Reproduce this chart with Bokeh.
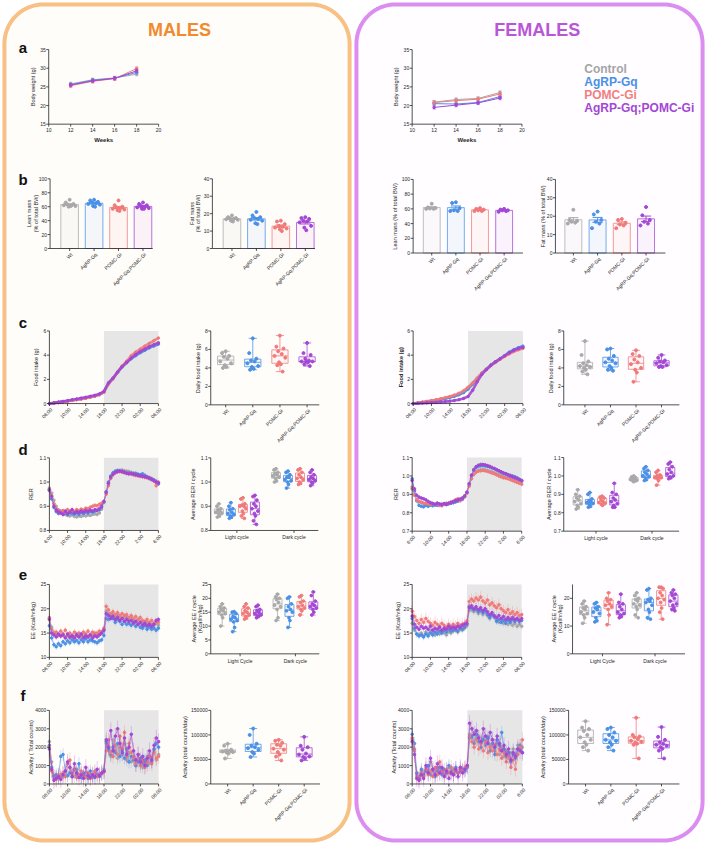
import numpy as np
from bokeh.plotting import figure
from bokeh.models import Range1d
from bokeh.embed import file_html
from bokeh.resources import INLINE
from bokeh.core.properties import value

# ============================ DATA ============================
groups = ["Control", "AgRP-Gq", "POMC-Gi", "AgRP-Gq;POMC-Gi"]
cat_labels = ["Wt", "AgRP-Gq", "POMC-Gi", "AgRP-Gq;POMC-Gi"]
colors = ["#A9A9A9", "#4A90E6", "#F07A7A", "#A347D4"]
legend_colors = ["#A5A5A5", "#4A90E8", "#F27F7F", "#A248D3"]

# (a) body weight
weeks = [12, 14, 16, 18]
week_ticks = [10, 12, 14, 16, 18, 20]
bw_m_ctrl = [25.8, 26.9, 27.4, 28.4]
bw_m_agrp = [25.6, 26.8, 27.3, 28.9]
bw_m_pomc = [25.3, 26.5, 27.2, 29.9]
bw_m_dual = [25.5, 26.6, 27.3, 29.3]
bw_f_ctrl = [20.9, 21.6, 21.9, 23.5]
bw_f_agrp = [20.5, 20.4, 20.8, 22.4]
bw_f_pomc = [20.8, 21.3, 21.7, 23.1]
bw_f_dual = [19.5, 20.1, 20.7, 22.0]
bw_sem = [0.45, 0.4, 0.5, 0.45]

# (b) body composition (% of total BW)
lean_m_ctrl = [70, 66, 64, 63, 62, 62, 61, 60, 61]
lean_m_agrp = [70, 69, 67, 66, 65, 64, 63, 61, 60]
lean_m_pomc = [69, 62, 60, 59, 58, 57, 56, 55, 54]
lean_m_dual = [66, 64, 62, 61, 60, 59, 58, 57, 57]
fat_m_ctrl = [19, 18, 17.5, 17.2, 17, 16.8, 16.5, 16, 15.5]
fat_m_agrp = [21, 19, 18, 17.5, 17, 16.5, 16, 14.5, 14]
fat_m_pomc = [16, 15.5, 14, 13, 12.5, 12, 11.5, 11, 10]
fat_m_dual = [18, 17.5, 17, 16, 15.5, 15, 13, 12, 10.5]
lean_f_ctrl = [67, 62, 61, 60.5, 60, 60]
lean_f_agrp = [69, 68, 61, 58, 57, 57]
lean_f_pomc = [61, 60, 59, 58, 57, 57]
lean_f_dual = [60, 59, 58, 58, 57, 56]
fat_f_ctrl = [23.5, 18, 17.5, 17, 16.5, 16]
fat_f_agrp = [22.5, 21, 18, 17, 16, 13.5]
fat_f_pomc = [18.5, 18, 16.5, 15.5, 15, 13.5]
fat_f_dual = [25, 20.5, 18, 17, 16, 15]

# time axes
time_ticks = [0, 4, 8, 12, 16, 20, 24]
tlab_a = ["06:00", "10:00", "14:00", "18:00", "22:00", "02:00", "06:00"]
tlab_b = ["6:00", "10:00", "14:00", "18:00", "22:00", "2:00", "6:00"]
tlab_c = ["06:00", "10:00", "14:00", "18:00", "22:00", "02:00", "6:00"]

# (c) cumulative food intake (g), hourly from 06:00
food_m_ctrl = [0, 0.05, 0.10, 0.15, 0.21, 0.27, 0.33, 0.39, 0.46, 0.54, 0.62, 0.74, 0.95,
               1.65, 2.05, 2.55, 3.00, 3.35, 3.75, 4.05, 4.30, 4.50, 4.70, 4.90, 5.05]
food_m_agrp = [0, 0.05, 0.10, 0.16, 0.22, 0.28, 0.34, 0.40, 0.47, 0.55, 0.63, 0.76, 0.98,
               1.70, 2.10, 2.60, 3.05, 3.40, 3.70, 3.95, 4.20, 4.40, 4.60, 4.75, 4.90]
food_m_pomc = [0, 0.04, 0.08, 0.13, 0.19, 0.25, 0.31, 0.37, 0.44, 0.52, 0.60, 0.72, 0.92,
               1.60, 2.05, 2.60, 3.10, 3.50, 3.95, 4.25, 4.50, 4.75, 4.98, 5.20, 5.42]
food_m_dual = [0, 0.06, 0.12, 0.18, 0.24, 0.31, 0.38, 0.45, 0.52, 0.60, 0.68, 0.80, 1.00,
               1.70, 2.10, 2.60, 3.05, 3.40, 3.75, 4.05, 4.30, 4.50, 4.70, 4.85, 5.00]
food_f_ctrl = [0, 0.05, 0.10, 0.15, 0.21, 0.28, 0.35, 0.43, 0.52, 0.63, 0.76, 0.95, 1.25,
               1.65, 2.10, 2.50, 2.85, 3.20, 3.45, 3.70, 3.95, 4.20, 4.40, 4.55, 4.65]
food_f_agrp = [0, 0.04, 0.09, 0.14, 0.20, 0.26, 0.33, 0.41, 0.50, 0.60, 0.72, 0.90, 1.20,
               1.60, 2.05, 2.50, 2.85, 3.20, 3.45, 3.70, 3.95, 4.25, 4.45, 4.62, 4.75]
food_f_pomc = [0, 0.06, 0.12, 0.18, 0.25, 0.32, 0.40, 0.48, 0.58, 0.70, 0.85, 1.05, 1.35,
               1.70, 2.10, 2.50, 2.85, 3.15, 3.40, 3.65, 3.90, 4.10, 4.30, 4.45, 4.55]
food_f_dual = [0, 0.02, 0.04, 0.06, 0.08, 0.10, 0.13, 0.16, 0.20, 0.25, 0.32, 0.42, 0.58,
               1.10, 1.80, 2.40, 2.80, 3.15, 3.45, 3.70, 3.95, 4.20, 4.40, 4.55, 4.65]

# daily food intake (g)
fi_m_ctrl = [5.8, 5.6, 5.3, 5.2, 5.0, 4.7, 4.5, 4.3, 4.1, 4.0]
fi_m_agrp = [7.2, 5.6, 5.0, 4.8, 4.7, 4.5, 4.2, 4.1, 3.9, 3.8]
fi_m_pomc = [7.5, 6.3, 6.1, 5.8, 5.5, 5.3, 5.1, 4.6, 4.4, 4.3, 3.6]
fi_m_dual = [6.7, 5.6, 5.4, 5.0, 4.8, 4.7, 4.7, 4.7, 4.6, 4.4, 4.2]
fi_f_ctrl = [6.9, 5.4, 4.7, 4.5, 4.3, 4.2, 4.1, 4.0, 3.8, 3.6, 3.3]
fi_f_agrp = [6.1, 6.0, 5.3, 5.0, 4.8, 4.6, 4.5, 4.2, 4.0, 3.8, 3.7]
fi_f_pomc = [5.9, 5.5, 5.3, 4.9, 4.6, 4.4, 4.0, 3.8, 3.5, 2.5]
fi_f_dual = [5.4, 5.1, 4.8, 4.7, 4.6, 4.5, 4.3, 4.2, 4.1, 4.1]

# (d) RER, every 30 min from 06:00
rer_m_ctrl = [0.975, 0.955, 0.925, 0.900, 0.885, 0.876, 0.872, 0.866, 0.862, 0.860,
              0.864, 0.858, 0.856, 0.860, 0.858, 0.862, 0.860, 0.864, 0.862, 0.866,
              0.868, 0.866, 0.872, 0.888, 0.915, 0.955, 0.995, 1.020, 1.035, 1.042,
              1.046, 1.048, 1.050, 1.047, 1.045, 1.044, 1.040, 1.038, 1.035, 1.032,
              1.030, 1.028, 1.025, 1.022, 1.018, 1.015, 1.010, 1.005, 1.000]
rer_m_agrp = [0.965, 0.930, 0.895, 0.878, 0.870, 0.880, 0.868, 0.872, 0.866, 0.874,
              0.870, 0.868, 0.872, 0.866, 0.874, 0.870, 0.876, 0.872, 0.878, 0.876,
              0.880, 0.884, 0.886, 0.895, 0.918, 0.960, 1.000, 1.025, 1.038, 1.045,
              1.048, 1.046, 1.044, 1.042, 1.040, 1.038, 1.036, 1.034, 1.036, 1.032,
              1.030, 1.034, 1.028, 1.022, 1.018, 1.012, 1.008, 1.000, 0.992]
rer_m_pomc = [0.970, 0.945, 0.910, 0.890, 0.884, 0.878, 0.882, 0.876, 0.886, 0.880,
              0.884, 0.878, 0.886, 0.882, 0.888, 0.884, 0.892, 0.890, 0.896, 0.900,
              0.904, 0.902, 0.908, 0.912, 0.920, 0.950, 0.985, 1.015, 1.030, 1.038,
              1.042, 1.044, 1.042, 1.040, 1.038, 1.036, 1.034, 1.030, 1.028, 1.026,
              1.024, 1.022, 1.020, 1.018, 1.014, 1.010, 1.005, 0.985, 0.998]
rer_m_dual = [0.968, 0.940, 0.900, 0.884, 0.876, 0.872, 0.866, 0.880, 0.870, 0.876,
              0.886, 0.872, 0.878, 0.874, 0.880, 0.876, 0.882, 0.878, 0.884, 0.880,
              0.886, 0.882, 0.890, 0.900, 0.920, 0.958, 0.995, 1.020, 1.032, 1.040,
              1.044, 1.045, 1.043, 1.040, 1.036, 1.034, 1.035, 1.033, 1.030, 1.028,
              1.026, 1.024, 1.022, 1.020, 1.016, 1.012, 1.006, 1.000, 0.996]
rer_f_ctrl = [0.940, 0.900, 0.870, 0.860, 0.855, 0.850, 0.848, 0.845, 0.842, 0.845,
              0.840, 0.846, 0.842, 0.848, 0.845, 0.850, 0.848, 0.852, 0.855, 0.858,
              0.862, 0.866, 0.872, 0.885, 0.905, 0.945, 0.985, 1.010, 1.022, 1.030,
              1.034, 1.035, 1.033, 1.030, 1.026, 1.022, 1.018, 1.012, 1.008, 1.004,
              1.000, 0.996, 0.992, 0.990, 0.985, 0.982, 0.980, 0.975, 0.970]
rer_f_agrp = [0.985, 0.920, 0.865, 0.840, 0.835, 0.832, 0.840, 0.835, 0.842, 0.838,
              0.845, 0.840, 0.846, 0.842, 0.848, 0.844, 0.850, 0.852, 0.855, 0.860,
              0.864, 0.868, 0.874, 0.888, 0.910, 0.955, 1.000, 1.030, 1.045, 1.052,
              1.055, 1.056, 1.054, 1.052, 1.048, 1.044, 1.040, 1.034, 1.028, 1.022,
              1.016, 1.012, 1.008, 1.004, 1.000, 0.996, 0.990, 0.982, 0.976]
rer_f_pomc = [0.930, 0.895, 0.870, 0.862, 0.858, 0.852, 0.850, 0.848, 0.846, 0.850,
              0.845, 0.852, 0.840, 0.838, 0.848, 0.852, 0.850, 0.858, 0.862, 0.870,
              0.876, 0.866, 0.880, 0.890, 0.908, 0.945, 0.985, 1.008, 1.020, 1.026,
              1.028, 1.030, 1.028, 1.025, 1.020, 1.016, 1.012, 1.006, 1.000, 0.995,
              0.990, 0.988, 0.985, 0.980, 0.975, 0.970, 0.965, 0.960, 0.955]
rer_f_dual = [0.975, 0.930, 0.895, 0.885, 0.880, 0.876, 0.870, 0.862, 0.855, 0.850,
              0.846, 0.852, 0.848, 0.844, 0.850, 0.846, 0.852, 0.856, 0.860, 0.866,
              0.870, 0.874, 0.880, 0.892, 0.912, 0.958, 1.005, 1.035, 1.050, 1.058,
              1.062, 1.062, 1.060, 1.056, 1.052, 1.046, 1.040, 1.034, 1.028, 1.022,
              1.016, 1.012, 1.006, 1.000, 0.996, 0.990, 0.986, 0.980, 0.974]
rer_sem_m = [0.006, 0.008, 0.009, 0.010]
rer_sem_f = [0.008, 0.008, 0.010, 0.010]

# average RER per cycle
rerc_m_l_ctrl = [0.91, 0.90, 0.89, 0.885, 0.88, 0.875, 0.87, 0.87, 0.86, 0.855]
rerc_m_l_agrp = [0.915, 0.90, 0.89, 0.885, 0.875, 0.87, 0.865, 0.86, 0.855, 0.85]
rerc_m_l_pomc = [0.935, 0.93, 0.91, 0.905, 0.90, 0.90, 0.89, 0.88, 0.87, 0.86, 0.85]
rerc_m_l_dual = [0.945, 0.94, 0.925, 0.91, 0.90, 0.89, 0.88, 0.87, 0.86, 0.84, 0.825]
rerc_m_d_ctrl = [1.055, 1.05, 1.04, 1.035, 1.03, 1.025, 1.02, 1.015, 1.005, 1.0]
rerc_m_d_agrp = [1.045, 1.04, 1.03, 1.02, 1.02, 1.01, 1.005, 1.0, 0.99, 0.975]
rerc_m_d_pomc = [1.055, 1.05, 1.04, 1.03, 1.02, 1.015, 1.01, 1.0, 0.995, 0.99]
rerc_m_d_dual = [1.05, 1.04, 1.03, 1.02, 1.015, 1.01, 1.005, 1.0, 0.995, 0.985]
rerc_f_l_ctrl = [0.925, 0.90, 0.89, 0.88, 0.87, 0.86, 0.85, 0.84, 0.83, 0.82]
rerc_f_l_agrp = [0.91, 0.90, 0.875, 0.865, 0.86, 0.855, 0.85, 0.845, 0.835, 0.83]
rerc_f_l_pomc = [0.89, 0.885, 0.88, 0.87, 0.86, 0.855, 0.85, 0.845, 0.84]
rerc_f_l_dual = [0.96, 0.91, 0.90, 0.88, 0.87, 0.86, 0.85, 0.84, 0.83, 0.83]
rerc_f_d_ctrl = [1.0, 0.995, 0.99, 0.985, 0.98, 0.98, 0.975, 0.97, 0.97]
rerc_f_d_agrp = [1.05, 1.04, 1.03, 1.02, 1.01, 1.0, 0.995, 0.99, 0.98, 0.975]
rerc_f_d_pomc = [1.03, 1.02, 1.005, 1.0, 0.995, 0.99, 0.99, 0.985, 0.975, 0.95]
rerc_f_d_dual = [1.075, 1.065, 1.05, 1.035, 1.02, 1.01, 1.0, 0.995, 0.99, 0.985]

# (e) energy expenditure (Kcal/hr/kg), every 30 min from 06:00
ee_m_ctrl = [18.0, 16.2, 15.2, 14.8, 14.6, 14.4, 14.8, 14.2, 14.5, 14.0,
             14.6, 14.3, 14.8, 14.2, 14.6, 14.4, 14.8, 14.3, 14.7, 14.5,
             15.0, 14.6, 14.8, 15.0, 15.5, 19.5, 19.0, 18.6, 18.8, 18.2,
             18.9, 18.4, 18.0, 18.6, 18.2, 17.8, 18.4, 17.6, 17.3, 17.8,
             17.2, 17.0, 16.8, 17.2, 16.6, 16.8, 16.5, 17.0, 16.6]
ee_m_agrp = [16.5, 14.0, 12.6, 12.2, 12.8, 12.4, 13.2, 12.8, 13.4, 13.0,
             13.6, 13.2, 13.5, 13.0, 13.6, 13.2, 13.8, 13.2, 13.6, 13.4,
             13.2, 13.0, 13.4, 13.6, 14.5, 18.0, 17.8, 18.5, 18.0, 17.2,
             17.8, 17.4, 16.8, 17.4, 16.8, 17.0, 16.6, 17.2, 16.4, 16.8,
             16.2, 16.0, 16.5, 15.8, 16.2, 15.8, 16.0, 15.6, 16.0]
ee_m_pomc = [18.2, 15.8, 14.8, 15.2, 14.6, 15.4, 14.8, 15.6, 14.6, 15.0,
             14.4, 15.2, 14.6, 15.0, 14.4, 15.2, 14.8, 15.4, 14.6, 15.2,
             14.8, 15.0, 15.4, 15.2, 16.0, 20.5, 19.8, 19.0, 19.4, 18.8,
             19.2, 18.6, 19.0, 18.4, 18.8, 18.2, 18.6, 18.0, 18.4, 17.8,
             18.2, 17.6, 17.4, 17.8, 17.2, 17.6, 17.0, 17.4, 17.2]
ee_m_dual = [17.8, 15.0, 14.6, 14.2, 14.8, 14.4, 14.6, 14.0, 14.8, 14.2,
             14.4, 14.0, 14.6, 14.2, 14.8, 14.0, 14.4, 14.2, 14.6, 14.0,
             14.4, 14.2, 14.6, 15.0, 15.6, 19.0, 18.6, 18.0, 18.4, 17.8,
             18.2, 17.6, 18.0, 17.4, 17.8, 17.4, 17.6, 17.0, 17.4, 16.8,
             17.2, 16.6, 17.0, 16.5, 16.8, 16.4, 16.8, 17.6, 17.8]
ee_f_ctrl = [17.0, 15.6, 14.8, 14.6, 15.0, 14.4, 15.2, 14.8, 15.4, 15.0,
             14.6, 15.2, 14.8, 15.4, 15.0, 14.6, 15.2, 15.0, 15.4, 15.6,
             15.2, 15.8, 15.6, 16.0, 16.5, 19.6, 19.8, 19.4, 19.6, 19.0,
             19.4, 18.8, 19.2, 18.6, 18.0, 18.6, 18.2, 17.6, 17.2, 17.8,
             17.0, 17.4, 16.8, 17.2, 16.6, 17.0, 16.4, 16.8, 16.4]
ee_f_agrp = [18.0, 16.0, 14.8, 14.4, 14.6, 14.2, 14.8, 14.4, 15.0, 14.6,
             15.2, 14.8, 15.4, 15.0, 15.6, 15.2, 15.8, 15.4, 15.6, 15.8,
             15.4, 16.0, 15.8, 16.2, 16.8, 20.5, 20.2, 19.8, 20.0, 19.4,
             19.8, 19.2, 19.6, 18.8, 18.2, 18.8, 18.4, 17.4, 17.8, 17.2,
             17.6, 17.0, 17.6, 17.2, 17.8, 17.4, 17.8, 17.4, 17.6]
ee_f_pomc = [19.5, 18.4, 17.6, 17.0, 17.8, 17.2, 18.0, 17.4, 17.0, 16.6,
             17.2, 16.8, 16.4, 17.0, 16.6, 16.2, 16.8, 16.4, 16.8, 16.4,
             17.0, 16.6, 16.8, 17.0, 17.5, 21.5, 22.0, 21.6, 22.2, 21.8,
             22.4, 21.6, 21.2, 21.8, 20.8, 21.2, 20.6, 20.2, 20.8, 20.0,
             19.6, 19.2, 19.8, 19.0, 19.4, 18.8, 19.2, 18.6, 18.8]
ee_f_dual = [18.5, 16.8, 16.2, 15.8, 16.4, 16.0, 16.2, 15.8, 16.4, 15.6,
             16.0, 15.8, 16.2, 15.6, 16.0, 15.8, 16.4, 16.0, 16.2, 16.0,
             16.4, 16.2, 16.6, 16.8, 17.0, 20.2, 20.6, 20.0, 20.4, 19.8,
             20.2, 19.6, 20.0, 19.4, 18.8, 19.2, 18.6, 18.2, 18.6, 18.0,
             18.4, 17.8, 18.2, 17.8, 18.2, 17.8, 18.0, 17.6, 18.0]
ee_sem_m = [0.6, 0.7, 0.7, 0.6]
ee_sem_f = [0.7, 0.7, 1.2, 0.8]

# average EE per cycle
eec_m_l_ctrl = [18, 17, 16.5, 16, 15.5, 15, 14.5, 14, 13, 10]
eec_m_l_agrp = [15.2, 15, 14.5, 13.5, 13, 12.5, 12, 11.5, 9.5, 8]
eec_m_l_pomc = [18, 17, 16.5, 15.5, 15, 14.5, 14, 13.5, 13, 12.5]
eec_m_l_dual = [17.5, 17, 16, 15.5, 15, 14.5, 14, 13.8, 13.5, 13]
eec_m_d_ctrl = [21.5, 20.5, 20, 19.5, 18.5, 17.5, 17, 16, 13, 12]
eec_m_d_agrp = [20.5, 20, 18, 17, 16, 15.5, 15, 13, 12, 9.5]
eec_m_d_pomc = [21, 20.5, 19, 18.5, 17.5, 17, 16.5, 16, 15.5, 14]
eec_m_d_dual = [22.3, 21, 19, 18, 17.5, 17, 16.5, 16, 15, 14]
eec_f_l_ctrl = [19, 18, 17, 16.5, 16, 15, 14.5, 14, 13, 11]
eec_f_l_agrp = [18.5, 18, 17, 16.5, 16, 15, 14.5, 13, 12, 11.5]
eec_f_l_pomc = [22, 20, 19.5, 19, 18, 17.5, 17, 16, 14, 10.5]
eec_f_l_dual = [21.5, 18.5, 18, 17, 16, 15, 14.5, 14, 13.5, 13]
eec_f_d_ctrl = [22, 21, 20, 19.5, 19, 18, 17.5, 17, 16, 14, 13]
eec_f_d_agrp = [23.5, 23, 20, 19.5, 19, 18.5, 17.5, 16, 15, 13, 12.5]
eec_f_d_pomc = [24, 24, 23.5, 22, 21, 20, 19.5, 18.5, 16.5, 15, 12.5]
eec_f_d_dual = [23, 22, 21.5, 21, 20, 19, 18, 17.5, 16.5, 16, 15.5]

# (f) activity (total counts), every 30 min from 06:00
act_m_ctrl = [2300, 1200, 450, 350, 420, 500, 380, 700, 450, 900,
              600, 400, 800, 500, 350, 450, 600, 400, 550, 350,
              700, 450, 500, 550, 800, 2200, 1800, 1500, 2400, 1800,
              1400, 2000, 1600, 2200, 1300, 1700, 1200, 1500, 1000, 1300,
              1100, 900, 1200, 1500, 1100, 1400, 1800, 1300, 1600]
act_m_agrp = [2100, 900, 400, 500, 350, 1500, 1600, 700, 450, 600,
              400, 800, 500, 1100, 350, 600, 400, 300, 700, 450,
              350, 500, 400, 600, 700, 2300, 1900, 1600, 2000, 1700,
              2200, 1500, 1800, 1400, 1900, 1200, 1500, 1300, 1000, 1200,
              1400, 1100, 1300, 1000, 1500, 1200, 1900, 2200, 2000]
act_m_pomc = [2000, 700, 300, 250, 500, 350, 600, 400, 1100, 1300,
              500, 800, 350, 500, 700, 400, 350, 600, 300, 500,
              650, 400, 500, 600, 650, 1800, 2400, 1700, 1500, 2100,
              1600, 2600, 1900, 2800, 1500, 2200, 1700, 1400, 1100, 1600,
              1000, 1300, 900, 1200, 1500, 1100, 1700, 1400, 1500]
act_m_dual = [1900, 800, 200, 300, 400, 250, 500, 700, 1200, 900,
              400, 1100, 600, 350, 500, 300, 900, 450, 350, 500,
              400, 800, 450, 600, 700, 2400, 2000, 2900, 1800, 2600,
              3000, 2200, 1700, 2500, 1600, 2000, 2700, 1800, 1300, 1600,
              1200, 1500, 1000, 1400, 1800, 1300, 2100, 2500, 2300]
act_f_ctrl = [2400, 1800, 500, 400, 700, 500, 900, 600, 1200, 700,
              500, 900, 600, 800, 500, 700, 900, 600, 800, 700,
              600, 900, 700, 800, 1000, 2700, 2500, 2800, 2400, 2600,
              2300, 2500, 2200, 2600, 2100, 2400, 1800, 2200, 1600, 2000,
              1500, 1800, 1400, 1700, 1900, 1600, 2100, 1900, 2000]
act_f_agrp = [2700, 2200, 600, 300, 800, 500, 700, 1000, 500, 800,
              400, 700, 900, 500, 800, 600, 1000, 700, 500, 900,
              600, 700, 800, 700, 900, 2500, 2600, 2200, 2700, 2300,
              2000, 2400, 2100, 2500, 1800, 2200, 1600, 2400, 2100, 2800,
              1900, 1500, 1700, 1200, 1600, 1400, 1900, 2100, 1700]
act_f_pomc = [2500, 1900, 400, 250, 600, 400, 800, 500, 700, 400,
              900, 500, 1200, 700, 500, 800, 600, 900, 500, 700,
              600, 800, 700, 900, 1000, 2600, 2300, 2000, 2400, 1900,
              2200, 1800, 2300, 1700, 2000, 1800, 2100, 1600, 1900, 1400,
              1700, 1200, 1500, 900, 1300, 800, 1600, 2000, 2400]
act_f_dual = [2300, 1600, 300, 200, 500, 300, 1000, 600, 1400, 800,
              500, 1100, 600, 900, 400, 700, 300, 600, 500, 800,
              400, 900, 600, 800, 1000, 3300, 3000, 2700, 2900, 2500,
              2300, 3000, 2600, 2200, 2800, 2400, 2000, 2600, 2200, 1800,
              2100, 1600, 1900, 1300, 1700, 1500, 1900, 1800, 1700]
act_sem_m = [350, 350, 400, 450]
act_sem_f = [350, 350, 400, 450]

# daily activity (total counts/day)
ad_m_ctrl = [82000, 78000, 70000, 68000, 67000, 66000, 65000, 64000, 62000, 52000]
ad_m_agrp = [113000, 100000, 82000, 78000, 75000, 73000, 70000, 65000, 62000, 55000]
ad_m_pomc = [90000, 88000, 84000, 80000, 78000, 72000, 70000, 65000, 60000, 56000, 48000]
ad_m_dual = [96000, 78000, 75000, 70000, 62000, 60000, 56000, 55000, 52000, 48000]
ad_f_ctrl = [128000, 115000, 112000, 108000, 100000, 95000, 90000, 85000, 80000, 75000, 68000]
ad_f_agrp = [115000, 112000, 105000, 100000, 95000, 90000, 88000, 85000, 80000, 75000, 68000]
ad_f_pomc = [135000, 100000, 97000, 95000, 92000, 88000, 86000, 84000, 82000, 80000, 52000]
ad_f_dual = [116000, 96000, 90000, 85000, 82000, 80000, 78000, 75000, 72000, 68000, 52000]

# ============================ FIGURE ============================
W, H = 722.0, 862.0
FONT = value("Liberation Sans")
TXT = "#262626"
AXC = "#262626"
TFS = 5.0   # tick font size
LFS = 5.6   # axis title font size

p = figure(width=706, height=846, x_range=Range1d(0, W), y_range=Range1d(H, 0),
           output_backend="svg", toolbar_location=None, min_border=0,
           x_axis_location=None, y_axis_location=None,
           background_fill_color="white", border_fill_color="white")
p.outline_line_color = None
p.grid.visible = False

XR, YR = {}, {}


class Ax:
    def __init__(self, name, left, right, top, bottom, xmin, xmax, ymin, ymax):
        self.xmin, self.xmax, self.ymin, self.ymax = xmin, xmax, ymin, ymax
        self.sx = (xmax - xmin) / (right - left)
        self.sy = (ymax - ymin) / (bottom - top)
        XR[name] = Range1d(xmin - left * self.sx, xmin + (W - left) * self.sx)
        YR[name] = Range1d(ymin - (H - bottom) * self.sy, ymin + bottom * self.sy)
        self.kw = dict(x_range_name=name, y_range_name=name)


def txt(x, y, s, size, color=TXT, bold=False, angle=0.0, align="center",
        baseline="middle", kw=None, xo=0, yo=0):
    kw = kw or {}
    p.text(x=list(x), y=list(y), text=list(s), text_font=FONT,
           text_font_size=f"{size}px", text_color=color,
           text_font_style="bold" if bold else "normal", angle=angle,
           text_align=align, text_baseline=baseline, x_offset=xo, y_offset=yo, **kw)


def axes(ax, yt, ylab, xt=None, xlab=None, rot=False, ytop=None):
    k = ax.kw
    ytop = ax.ymax if ytop is None else ytop
    p.segment(x0=[ax.xmin], y0=[ax.ymin], x1=[ax.xmin], y1=[ytop], line_color=AXC, line_width=0.8, **k)
    p.segment(x0=[ax.xmin], y0=[ax.ymin], x1=[ax.xmax], y1=[ax.ymin], line_color=AXC, line_width=0.8, **k)
    n = len(yt)
    tl = 2.5 * ax.sx
    p.segment(x0=[ax.xmin - tl] * n, y0=yt, x1=[ax.xmin] * n, y1=yt, line_color=AXC, line_width=0.8, **k)
    txt([ax.xmin] * n, yt, ylab, TFS, align="right", kw=k, xo=-3)
    if xt is not None:
        m = len(xt)
        tv = 2.5 * ax.sy
        p.segment(x0=xt, y0=[ax.ymin] * m, x1=xt, y1=[ax.ymin - tv] * m, line_color=AXC, line_width=0.8, **k)
        if xlab is not None:
            if rot:
                txt(xt, [ax.ymin] * m, xlab, TFS, angle=np.pi / 4, align="right",
                    baseline="middle", kw=k, xo=2, yo=5)
            else:
                txt(xt, [ax.ymin] * m, xlab, TFS, baseline="top", kw=k, yo=4)


def ytitle(x, y, lines, size=LFS, bold=False, gap=6.5):
    for i, s in enumerate(lines):
        txt([x + i * gap], [y], [s], size, bold=bold, angle=np.pi / 2)


def shade(ax):
    p.quad(left=[12], right=[24], bottom=[ax.ymin], top=[ax.ymax],
           fill_color="#E6E6E6", line_color=None, **ax.kw)


def tseries(ax, t, series, sems=None, size=2.6, lw=0.7):
    k = ax.kw
    sems = sems or [None] * len(series)
    for s, c, e in zip(series, colors, sems):
        s = np.asarray(s, float)
        tt = np.asarray(t[:len(s)], float)
        if e:
            p.segment(x0=tt, y0=s - e, x1=tt, y1=s + e, line_color=c, line_alpha=0.35, line_width=0.8, **k)
        p.line(tt, s, line_color=c, line_width=lw, line_alpha=0.9, **k)
        if size:
            p.scatter(tt, s, size=size, fill_color=c, line_color=c, **k)


SPREAD = [0, -1, 1, -0.5, 0.5, -1.5, 1.5, -0.25, 0.25, -0.75, 0.75, -1.25, 1.25]


def barplot(ax, data, width):
    k = ax.kw
    for i, (vals, c) in enumerate(zip(data, colors)):
        v = np.asarray(vals, float)
        m = v.mean()
        se = v.std(ddof=1) / np.sqrt(len(v))
        x = i + 1
        p.vbar(x=[x], top=[m], bottom=[ax.ymin], width=width, fill_color=c, fill_alpha=0.06,
               line_color=c, line_alpha=0.75, line_width=1, **k)
        off = np.array(SPREAD[:len(v)]) * width * 0.22
        p.scatter(x + off, v, size=3, fill_color=c, line_color=c, **k)
        cw = width * 0.3
        p.segment(x0=[x, x - cw, x - cw], y0=[m - se, m + se, m - se],
                  x1=[x, x + cw, x + cw], y1=[m + se, m + se, m - se],
                  line_color=c, line_width=1, **k)


def boxplot(ax, pos, data, cols, width, size=3):
    k = ax.kw
    for x, vals, c in zip(pos, data, cols):
        v = np.asarray(vals, float)
        q1, med, q3 = np.percentile(v, [25, 50, 75])
        lo, hi = v.min(), v.max()
        p.quad(left=[x - width / 2], right=[x + width / 2], bottom=[q1], top=[q3],
               fill_color=c, fill_alpha=0.05, line_color=c, line_width=0.9, line_alpha=0.85, **k)
        cw = width / 4
        p.segment(x0=[x - width / 2, x, x, x - cw, x - cw], y0=[med, q3, q1, hi, lo],
                  x1=[x + width / 2, x, x, x + cw, x + cw], y1=[med, hi, lo, hi, lo],
                  line_color=c, line_width=0.9, line_alpha=0.85, **k)
        off = np.array(SPREAD[:len(v)]) * width * 0.22
        p.scatter(x + off, v, size=size, fill_color=c, line_color=c, **k)


def rrect(x0, y0, x1, y1, r, n=20):
    t = np.linspace(0, np.pi / 2, n)
    xs, ys = [], []
    for cx, cy, a0 in [(x0 + r, y0 + r, np.pi), (x1 - r, y0 + r, 1.5 * np.pi),
                       (x1 - r, y1 - r, 0.0), (x0 + r, y1 - r, 0.5 * np.pi)]:
        a = a0 + t
        xs += list(cx + r * np.cos(a))
        ys += list(cy + r * np.sin(a))
    return xs, ys


# ---------------- frames & headers ----------------
xs, ys = rrect(4, 4, 357, 856, 40)
p.patch(xs, ys, fill_color="#FFFDFA", line_color="#F8C084", line_width=4)
xs, ys = rrect(364, 4, 718, 856, 40)
p.patch(xs, ys, fill_color="#FFFDFF", line_color="#DC8EF0", line_width=4)
txt([183], [30], ["MALES"], 18, color="#F08A2C", bold=True)
txt([549], [30], ["FEMALES"], 18, color="#B757D8", bold=True)
for letter, yy in zip("abcdef", [48, 182, 328, 457, 585, 708]):
    txt([23], [yy], [letter], 15, color="#111111", bold=True)
for g, c, yy in zip(groups, legend_colors, [70, 83.3, 96.7, 110]):
    txt([597], [yy], [g], 12, color=c, bold=True, align="left")

# ---------------- (a) body weight ----------------
for ax_args, data, ylx, wx in [
        (("am", 49.3, 161.7, 50, 126), [bw_m_ctrl, bw_m_agrp, bw_m_pomc, bw_m_dual], 33, 105.5),
        (("af", 421, 533.3, 50, 126), [bw_f_ctrl, bw_f_agrp, bw_f_pomc, bw_f_dual], 404.3, 477)]:
    ax = Ax(*ax_args, 10, 20, 15, 35)
    k = ax.kw
    for s, c, e in zip(data, colors, bw_sem):
        s = np.asarray(s, float)
        w = np.asarray(weeks, float)
        p.segment(x0=w, y0=s - e, x1=w, y1=s + e, line_color=c, line_alpha=0.7, line_width=0.8, **k)
        p.segment(x0=w - 0.15, y0=s + e, x1=w + 0.15, y1=s + e, line_color=c, line_alpha=0.7, line_width=0.8, **k)
        p.segment(x0=w - 0.15, y0=s - e, x1=w + 0.15, y1=s - e, line_color=c, line_alpha=0.7, line_width=0.8, **k)
        p.line(w, s, line_color=c, line_width=1, **k)
        p.scatter(w, s, size=2.6, fill_color=c, line_color=c, **k)
    axes(ax, [15, 20, 25, 30, 35], ["15", "20", "25", "30", "35"], week_ticks, [str(v) for v in week_ticks])
    ytitle(ylx, 88, ["Body weight (g)"])
    txt([wx], [142], ["Weeks"], 6, bold=True)

# ---------------- (b) body composition ----------------
bml = Ax("bml", 50.7, 155.7, 181.7, 252.7, 0.2, 4.4, 0, 100)
barplot(bml, [lean_m_ctrl, lean_m_agrp, lean_m_pomc, lean_m_dual], 0.72)
axes(bml, [0, 20, 40, 60, 80, 100], ["0", "20", "40", "60", "80", "100"], [1, 2, 3, 4], cat_labels, rot=True)
ytitle(29.5, 217, ["Lean mass", "(% of total BW)"])
bmf = Ax("bmf", 216.7, 321.7, 181.7, 252.7, 0.2, 4.4, 0, 40)
barplot(bmf, [fat_m_ctrl, fat_m_agrp, fat_m_pomc, fat_m_dual], 0.72)
axes(bmf, [0, 10, 20, 30, 40], ["0", "10", "20", "30", "40"], [1, 2, 3, 4], cat_labels, rot=True)
ytitle(195.5, 217, ["Fat mass", "(% of total BW)"])
bfl = Ax("bfl", 422, 534.3, 182.3, 257.3, 0.23, 4.78, 0, 100)
barplot(bfl, [lean_f_ctrl, lean_f_agrp, lean_f_pomc, lean_f_dual], 0.7)
axes(bfl, [0, 20, 40, 60, 80, 100], ["0", "20", "40", "60", "80", "100"], [1, 2, 3, 4], cat_labels, rot=True)
ytitle(403, 220, ["Lean mass (% of total BW)"])
bff = Ax("bff", 567.5, 680, 182.3, 257.3, 0.26, 4.8, 0, 40)
barplot(bff, [fat_f_ctrl, fat_f_agrp, fat_f_pomc, fat_f_dual], 0.7)
axes(bff, [0, 10, 20, 30, 40], ["0", "10", "20", "30", "40"], [1, 2, 3, 4], cat_labels, rot=True)
ytitle(554.5, 220, ["Fat mass (% of total BW)"])

# ---------------- (c) food intake ----------------
t60 = list(range(25))
t30 = list(np.arange(0, 24.01, 0.5))
for name, l, r, data, ylx, bold in [
        ("cmt", 50, 161.5, [food_m_ctrl, food_m_agrp, food_m_pomc, food_m_dual], 36.7, False),
        ("cft", 422, 534.3, [food_f_ctrl, food_f_agrp, food_f_pomc, food_f_dual], 409.3, True)]:
    ax = Ax(name, l, r, 336.7, 410.7, 0, 24, 0, 6)
    shade(ax)
    tseries(ax, t60, data, size=2.4, lw=2.6)
    axes(ax, [0, 2, 4, 6], ["0", "2", "4", "6"], time_ticks, tlab_a, rot=True)
    ytitle(ylx, 373.7, ["Food intake (g)"], bold=bold)

cmb = Ax("cmb", 215, 326, 336.7, 412, 0.45, 4.45, 0, 8)
boxplot(cmb, [1, 2, 3, 4], [fi_m_ctrl, fi_m_agrp, fi_m_pomc, fi_m_dual], colors, 0.6)
axes(cmb, [0, 2, 4, 6, 8], ["0", "2", "4", "6", "8"], [1, 2, 3, 4], cat_labels, rot=True)
ytitle(202, 374, ["Daily food intake  (g)"])
cfb = Ax("cfb", 576, 694.3, 336.7, 412, 0.17, 4.70, 0, 8)
boxplot(cfb, [1, 2, 3, 4], [fi_f_ctrl, fi_f_agrp, fi_f_pomc, fi_f_dual], colors, 0.6)
axes(cfb, [0, 2, 4, 6, 8], ["0", "2", "4", "6", "8"], [1, 2, 3, 4], cat_labels, rot=True)
ytitle(563, 374, ["Daily food intake  (g)"])

# ---------------- (d) RER ----------------
dmt = Ax("dmt", 50, 161.5, 466, 540, 0, 24, 0.8, 1.1)
shade(dmt)
tseries(dmt, t30, [rer_m_ctrl, rer_m_agrp, rer_m_pomc, rer_m_dual], rer_sem_m)
axes(dmt, [0.8, 0.9, 1.0, 1.1], ["0.8", "0.9", "1.0", "1.1"], time_ticks, tlab_b, rot=True)
ytitle(31.7, 503, ["RER"])
dft = Ax("dft", 421, 533, 465.7, 540.7, 0, 24, 0.7, 1.1)
shade(dft)
tseries(dft, t30, [rer_f_ctrl, rer_f_agrp, rer_f_pomc, rer_f_dual], rer_sem_f)
axes(dft, [0.7, 0.8, 0.9, 1.0, 1.1], ["0.7", "0.8", "0.9", "1.0", "1.1"], time_ticks, tlab_b, rot=True)
ytitle(404.3, 503, ["RER"])

cyc_cols = colors + colors
dmb = Ax("dmb", 215, 325, 466, 540, 0.325, 9.27, 0.8, 1.1)
pos_dm = [1, 2, 3, 4, 5.75, 6.75, 7.75, 8.75]
boxplot(dmb, pos_dm, [rerc_m_l_ctrl, rerc_m_l_agrp, rerc_m_l_pomc, rerc_m_l_dual,
                      rerc_m_d_ctrl, rerc_m_d_agrp, rerc_m_d_pomc, rerc_m_d_dual], cyc_cols, 0.75, size=2.8)
axes(dmb, [0.8, 0.9, 1.0, 1.1], ["0.8", "0.9", "1.0", "1.1"], [2.5, 7.25], ["Light cycle", "Dark cycle"])
ytitle(196.7, 503, ["Average RER / cycle"])
dfb = Ax("dfb", 576, 694, 465.7, 540.7, -0.15, 9.33, 0.7, 1.1)
pos_df = [1, 2, 3, 4, 5.6, 6.6, 7.6, 8.6]
boxplot(dfb, pos_df, [rerc_f_l_ctrl, rerc_f_l_agrp, rerc_f_l_pomc, rerc_f_l_dual,
                      rerc_f_d_ctrl, rerc_f_d_agrp, rerc_f_d_pomc, rerc_f_d_dual], cyc_cols, 0.75, size=2.8)
axes(dfb, [0.7, 0.8, 0.9, 1.0, 1.1], ["0.7", "0.8", "0.9", "1.0", "1.1"], [2.5, 7.1], ["Light cycle", "Dark cycle"])
ytitle(561, 503, ["Average RER / cycle"])

# ---------------- (e) EE ----------------
emt = Ax("emt", 50, 161.5, 595, 669.3, 0, 24, 10, 25)
shade(emt)
tseries(emt, t30, [ee_m_ctrl, ee_m_agrp, ee_m_pomc, ee_m_dual], ee_sem_m)
axes(emt, [10, 15, 20, 25], ["10", "15", "20", "25"], time_ticks, tlab_a, rot=True)
ytitle(33.3, 632, ["EE (Kcal/hr/kg)"])
eft = Ax("eft", 421, 533, 595, 669.3, 0, 24, 10, 25)
shade(eft)
tseries(eft, t30, [ee_f_ctrl, ee_f_agrp, ee_f_pomc, ee_f_dual], ee_sem_f)
axes(eft, [10, 15, 20, 25], ["10", "15", "20", "25"], time_ticks, tlab_a, rot=True)
ytitle(406, 632, ["EE (Kcal/hr/kg)"])

emb = Ax("emb", 215, 326, 595, 665.7, 0.04, 9.14, 0, 25)
pos_em = [1, 2, 3, 4, 5.64, 6.64, 7.64, 8.64]
boxplot(emb, pos_em, [eec_m_l_ctrl, eec_m_l_agrp, eec_m_l_pomc, eec_m_l_dual,
                      eec_m_d_ctrl, eec_m_d_agrp, eec_m_d_pomc, eec_m_d_dual], cyc_cols, 0.75, size=2.8)
axes(emb, [0, 5, 10, 15, 20, 25], ["0", "5", "10", "15", "20", "25"], [2.5, 7.14], ["Light Cycle", "Dark cycle"])
ytitle(198, 630, ["Average EE / cycle", "(Kcal/hr/kg)"], gap=6)
efb = Ax("efb", 585, 700, 595, 665.7, 0.05, 9.25, 0, 25)
pos_ef = [1, 2, 3, 4, 5.3, 6.3, 7.3, 8.3]
boxplot(efb, pos_ef, [eec_f_l_ctrl, eec_f_l_agrp, eec_f_l_pomc, eec_f_l_dual,
                      eec_f_d_ctrl, eec_f_d_agrp, eec_f_d_pomc, eec_f_d_dual], cyc_cols, 0.75, size=2.8)
axes(efb, [0, 10, 20], ["0", "10", "20"], [2.5, 6.8], ["Light Cycle", "Dark cycle"], ytop=25)
ytitle(566, 630, ["Average EE / cycle", "(Kcal/hr/kg)"], gap=6)

# ---------------- (f) activity ----------------
fmt = Ax("fmt", 50, 161.7, 723.3, 798.3, 0, 24, 0, 4000)
shade(fmt)
tseries(fmt, t30, [act_m_ctrl, act_m_agrp, act_m_pomc, act_m_dual], act_sem_m)
axes(fmt, [0, 1000, 2000, 3000, 4000], ["0", "1000", "2000", "3000", "4000"], time_ticks, tlab_a, rot=True)
ytitle(31, 760.8, ["Activity ( Total counts)"])
fft = Ax("fft", 421, 533.7, 723.3, 798.3, 0, 24, 0, 4000)
shade(fft)
tseries(fft, t30, [act_f_ctrl, act_f_agrp, act_f_pomc, act_f_dual], act_sem_f)
axes(fft, [0, 1000, 2000, 3000, 4000], ["0", "1000", "2000", "3000", "4000"], time_ticks, tlab_c, rot=True)
ytitle(402.7, 760.8, ["Activity (Total counts)"])

fmb = Ax("fmb", 215, 326.7, 723.3, 798.3, 0.337, 4.617, 0, 150000)
boxplot(fmb, [1, 2, 3, 4], [ad_m_ctrl, ad_m_agrp, ad_m_pomc, ad_m_dual], colors, 0.62)
axes(fmb, [0, 50000, 100000, 150000], ["0", "50000", "100000", "150000"], [1, 2, 3, 4], cat_labels, rot=True)
ytitle(188.3, 760.8, ["Activity (total counts/day)"])
ffb = Ax("ffb", 581, 694.3, 723.3, 798.3, 0.332, 4.707, 0, 150000)
boxplot(ffb, [1, 2, 3, 4], [ad_f_ctrl, ad_f_agrp, ad_f_pomc, ad_f_dual], colors, 0.62)
axes(ffb, [0, 50000, 100000, 150000], ["0", "50000", "100000", "150000"], [1, 2, 3, 4], cat_labels, rot=True)
ytitle(554.3, 760.8, ["Activity (total counts/day)"])

p.extra_x_ranges = XR
p.extra_y_ranges = YR

open("out.html", "w").write(file_html(p, INLINE))
